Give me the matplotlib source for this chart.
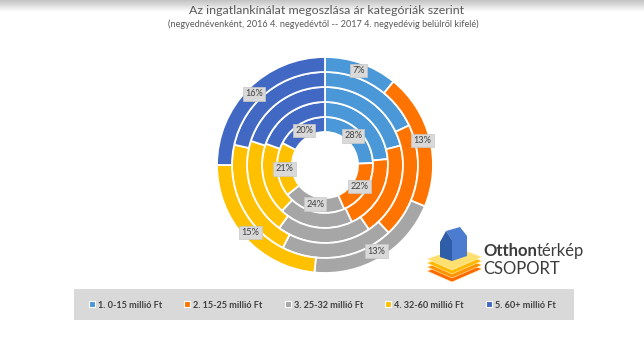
import matplotlib
matplotlib.use('Agg')
import matplotlib.pyplot as plt
from matplotlib.patches import Rectangle, Polygon
from matplotlib.lines import Line2D
import numpy as np

# ---------------- data ----------------
categories = ['1. 0-15 millió Ft', '2. 15-25 millió Ft', '3. 25-32 millió Ft',
              '4. 32-60 millió Ft', '5. 60+ millió Ft']
q4_2016 = [28, 22, 24, 21, 20]          # innermost ring (labelled)
q1_2017 = [23.5, 19.5, 19, 18.5, 19.5]  # estimated from angles
q2_2017 = [21, 19.5, 19.5, 20, 20]      # estimated from angles
q3_2017 = [18, 20, 19.5, 21, 21.5]      # estimated from angles
q4_2017 = [7, 13, 13, 15, 16]           # outermost ring (labelled)
rings = [q4_2016, q1_2017, q2_2017, q3_2017, q4_2017]
labelled_rings = [0, 4]

colors = ['#4A98D8', '#FF7300', '#A6A6A6', '#FFC000', '#4169C4']

FONT = ['Lato', 'DejaVu Sans']
plt.rcParams['font.family'] = FONT

W, H = 644, 351
fig = plt.figure(figsize=(W / 100, H / 100), dpi=100)
fig.patch.set_facecolor('white')

# background overlay in pixel coordinates
bg = fig.add_axes([0, 0, 1, 1])
grad = np.linspace(0.76, 1.0, 60).reshape(-1, 1)
bg.imshow(np.dstack([grad, grad, grad]), extent=(0, W, 12, 0), aspect='auto',
          interpolation='bilinear')
bg.set_xlim(0, W)
bg.set_ylim(H, 0)
bg.axis('off')

bg.text(327, 10, 'Az ingatlankínálat megoszlása ár kategóriák szerint',
        ha='center', va='center', fontsize=8.9, color='#595959')
bg.text(323, 24, '(negyednévenként, 2016 4. negyedévtől -- 2017 4. negyedévig belülről kifelé)',
        ha='center', va='center', fontsize=6.6, color='#595959')

# legend background
bg.add_patch(Rectangle((74, 289), 500, 31, facecolor='#D9D9D9', edgecolor='none'))

# ---------------- donut ----------------
cx, cy, R = 325, 165, 108
ax = fig.add_axes([(cx - R) / W, (H - cy - R) / H, 2 * R / W, 2 * R / H])
ax.set_xlim(-1, 1)
ax.set_ylim(-1, 1)
ax.set_aspect('equal')
ax.axis('off')

hole = 33 / 108
w = (1 - hole) / len(rings)
for i, vals in enumerate(rings):
    r_out = hole + (i + 1) * w
    wedges, _ = ax.pie(vals, radius=r_out, colors=colors, startangle=90,
                       counterclock=False,
                       wedgeprops=dict(width=w, edgecolor='white', linewidth=1.3))
    if i in labelled_rings:
        rm = r_out - w / 2
        for wd, v in zip(wedges, vals):
            th = np.deg2rad((wd.theta1 + wd.theta2) / 2)
            ax.text(rm * np.cos(th), rm * np.sin(th), f'{v}%', ha='center', va='center',
                    fontsize=6.6, color='#404040',
                    bbox=dict(boxstyle='square,pad=0.25', fc='#D9D9D9', ec='#C8C8C8', lw=0.5))
ax.set_xlim(-1, 1)
ax.set_ylim(-1, 1)

# ---------------- legend ----------------
handles = [Line2D([], [], marker='s', ls='', markersize=5, markerfacecolor=c,
                  markeredgecolor='white', markeredgewidth=0.8) for c in colors]
fig.legend(handles, categories, ncol=5, loc='center',
           bbox_to_anchor=(322 / W, 1 - 305 / H), frameon=False,
           prop={'family': FONT, 'weight': 'bold', 'size': 6.6},
           labelcolor='#404040', handlelength=0.8, handletextpad=0.3,
           columnspacing=2.3)

# ---------------- logo ----------------
plate_cols = ['#FF6A00', '#FF9200', '#FFB800', '#FFE070']
for k, pc in enumerate(plate_cols):
    off = (3 - k) * 4
    pts = [(427, 259 + off), (458, 248 + off), (482, 257 + off), (452, 270 + off)]
    bg.add_patch(Polygon(pts, closed=True, facecolor=pc, edgecolor='#FFF2C0', lw=0.4))
# house
bg.add_patch(Polygon([(452, 240), (446, 231), (460, 227), (467, 236), (467, 256), (452, 261)],
                     closed=True, facecolor='#4B7CD0', edgecolor='none'))
bg.add_patch(Polygon([(440, 242), (446, 231), (452, 240), (452, 261), (440, 257)],
                     closed=True, facecolor='#2F5DA8', edgecolor='none'))
t1 = bg.text(483, 256, 'Otthon', ha='left', va='baseline', fontsize=12,
             fontweight='bold', color='#3C3C3C')
bg.annotate('térkép', xy=(1, 0), xycoords=t1, ha='left', va='bottom',
            fontsize=12, color='#3C3C3C')
bg.text(483, 274, 'CSOPORT', ha='left', va='baseline', fontsize=12, color='#3C3C3C')

fig.savefig('out.png', dpi=100, facecolor='white')
